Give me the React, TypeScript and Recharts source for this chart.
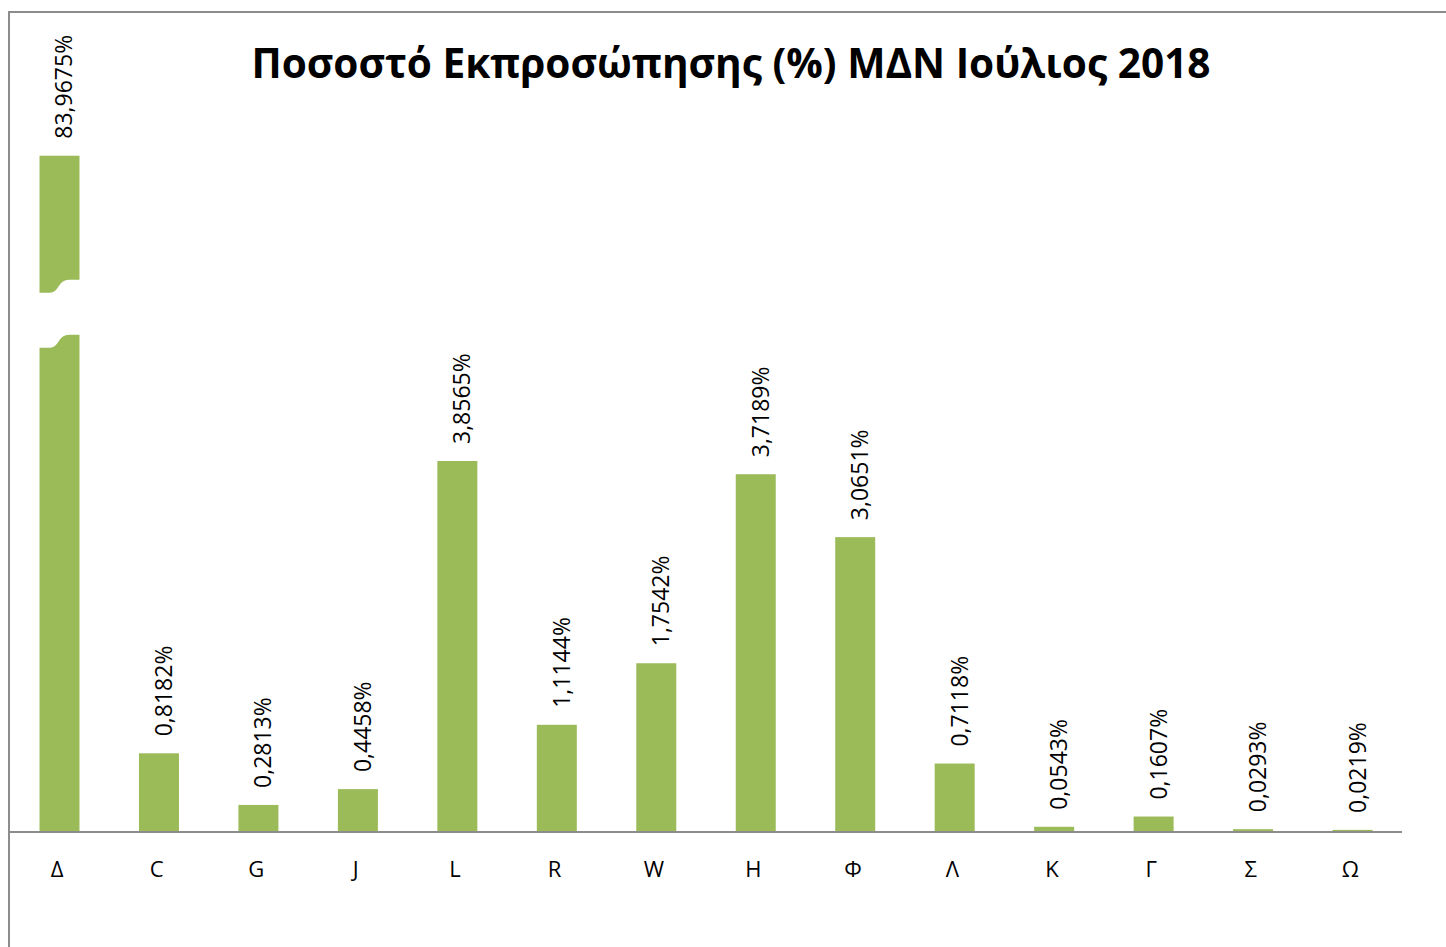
import { Bar, BarChart, LabelList, XAxis, YAxis } from 'recharts'

const categories = ['Δ', 'C', 'G', 'J', 'L', 'R', 'W', 'H', 'Φ', 'Λ', 'K', 'Γ', 'Σ', 'Ω']
const shares = [
	83.9675, 0.8182, 0.2813, 0.4458, 3.8565, 1.1144, 1.7542, 3.7189, 3.0651, 0.7118,
	0.0543, 0.1607, 0.0293, 0.0219,
]
// the first bar is drawn cut off at this height (broken axis)
const breakCap = 7.03
const yDomain = [0, 8]

const title = 'Ποσοστό Εκπροσώπησης (%) ΜΔΝ Ιούλιος 2018'

const data = categories.map((cat, i) => ({
	cat,
	value: shares[i],
	shown: Math.min(shares[i], breakCap),
	broken: shares[i] > breakCap,
}))

const FONT = '"Open Sans", sans-serif'
const GREEN = '#9BBB59'
const GRAY = '#8c8c8c'

const fmt = (v: number) => v.toFixed(4).replace('.', ',') + '%'

const BarShape = (props: any) => {
	const { x, y, width, height, payload } = props
	return (
		<g>
			<rect x={x} y={y} width={width} height={height} fill={GREEN} />
			{payload && payload.broken && (
				<path
					d={`M${x - 9},${y + 137} L${x + 10},${y + 137} C${x + 20},${y + 137} ${x + 18},${y + 124} ${x + 30},${y + 124} L${x + width + 13},${y + 124} L${x + width + 13},${y + 179} L${x + 30},${y + 179} C${x + 18},${y + 179} ${x + 20},${y + 192} ${x + 10},${y + 192} L${x - 9},${y + 192} Z`}
					fill='#ffffff'
				/>
			)}
		</g>
	)
}

const ValueLabel = (props: any) => {
	const { x, y, width, index } = props
	const px = x + width / 2 + 13
	const py = y - 17
	return (
		<text
			x={px}
			y={py}
			transform={`rotate(-90 ${px} ${py})`}
			textAnchor='start'
			fontSize={23}
			fontFamily={FONT}
			fill='#000'
		>
			{fmt(shares[index])}
		</text>
	)
}

const CatTick = (props: any) => {
	const { x, y, payload } = props
	return (
		<text x={x - 2} y={y + 37} textAnchor='middle' fontSize={22} fontFamily={FONT} fill='#000'>
			{payload.value}
		</text>
	)
}

const App = () => {
	return (
		<div
			style={{
				position: 'absolute',
				left: 0,
				top: 0,
				width: 1446,
				height: 947,
				background: '#fff',
				overflow: 'hidden',
			}}
		>
			<div
				style={{
					position: 'absolute',
					left: 8,
					top: 11,
					width: 2000,
					height: 2000,
					border: `2px solid ${GRAY}`,
				}}
			/>
			<div
				style={{
					position: 'absolute',
					left: 0,
					top: 36,
					width: 1462,
					textAlign: 'center',
					fontFamily: FONT,
					fontWeight: 700,
					fontSize: 40.6,
					lineHeight: '54px',
					color: '#000',
					whiteSpace: 'nowrap',
				}}
			>
				{title}
			</div>
			<div style={{ position: 'absolute', left: 0, top: 0 }}>
				<BarChart
					width={1446}
					height={947}
					data={data}
					margin={{ top: 62.4, right: 44, left: 9.5, bottom: 0 }}
				>
					<XAxis
						dataKey='cat'
						height={115}
						axisLine={{ stroke: GRAY, strokeWidth: 2 }}
						tickLine={false}
						tick={<CatTick />}
						interval={0}
					/>
					<YAxis hide domain={yDomain} allowDataOverflow />
					<Bar dataKey='shown' barSize={40} shape={<BarShape />} isAnimationActive={false}>
						<LabelList dataKey='shown' content={<ValueLabel />} />
					</Bar>
				</BarChart>
			</div>
		</div>
	)
}

export default App
